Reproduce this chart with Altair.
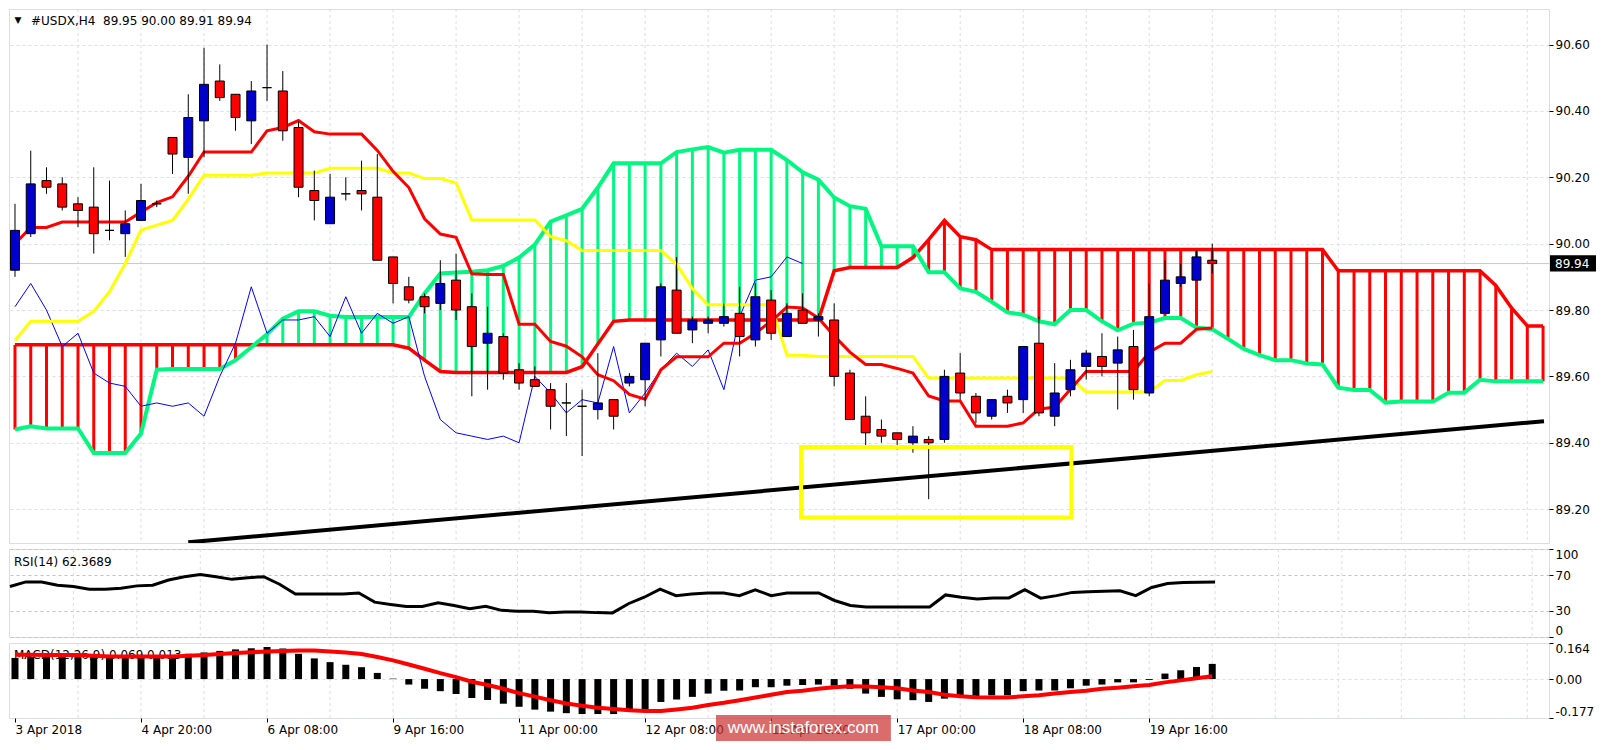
import altair as alt
import pandas as pd

# ---------------- data ----------------
opens = [89.92, 90.03, 90.19, 90.18, 90.12, 90.11, 90.04, 90.03, 90.07, 90.12,
         90.32, 90.26, 90.37, 90.49, 90.45, 90.37, 90.47, 90.46, 90.35, 90.16,
         90.06, 90.15, 90.16, 90.14, 89.96, 89.87, 89.84, 89.82, 89.89, 89.81,
         89.70, 89.72, 89.62, 89.59, 89.56, 89.52, 89.51, 89.50, 89.53, 89.58,
         89.59, 89.71, 89.86, 89.74, 89.76, 89.76, 89.79, 89.71, 89.83, 89.72,
         89.80, 89.77, 89.77, 89.61, 89.48, 89.44, 89.43, 89.40, 89.41, 89.41,
         89.61, 89.54, 89.48, 89.54, 89.53, 89.70, 89.48, 89.56, 89.63, 89.66,
         89.64, 89.69, 89.55, 89.79, 89.88, 89.89, 89.95]
highs = [90.12, 90.28, 90.23, 90.20, 90.14, 90.23, 90.19, 90.10, 90.18, 90.13,
         90.32, 90.45, 90.59, 90.54, 90.45, 90.49, 90.60, 90.52, 90.37, 90.22,
         90.21, 90.20, 90.25, 90.27, 89.96, 89.90, 89.85, 89.95, 89.97, 89.85,
         89.81, 89.73, 89.64, 89.63, 89.58, 89.58, 89.56, 89.67, 89.53, 89.61,
         89.70, 89.88, 89.96, 89.78, 89.78, 89.82, 89.87, 89.88, 89.86, 89.82,
         89.85, 89.79, 89.82, 89.62, 89.54, 89.47, 89.43, 89.45, 89.42, 89.62,
         89.67, 89.55, 89.53, 89.56, 89.69, 89.78, 89.64, 89.65, 89.68, 89.73,
         89.72, 89.74, 89.88, 89.95, 89.94, 89.98, 90.00]
lows = [89.90, 90.02, 90.15, 90.10, 90.05, 89.97, 90.01, 89.96, 90.07, 90.11,
        90.21, 90.15, 90.26, 90.43, 90.34, 90.30, 90.43, 90.31, 90.14, 90.07,
        90.06, 90.13, 90.10, 89.95, 89.82, 89.82, 89.79, 89.80, 89.77, 89.54,
        89.56, 89.59, 89.56, 89.57, 89.44, 89.42, 89.36, 89.47, 89.44, 89.57,
        89.51, 89.66, 89.73, 89.70, 89.73, 89.75, 89.66, 89.69, 89.71, 89.72,
        89.76, 89.72, 89.57, 89.47, 89.39, 89.40, 89.38, 89.37, 89.23, 89.40,
        89.53, 89.46, 89.47, 89.49, 89.49, 89.48, 89.45, 89.54, 89.59, 89.60,
        89.50, 89.53, 89.54, 89.79, 89.87, 89.89, 89.91]
closes = [90.04, 90.18, 90.17, 90.11, 90.10, 90.03, 90.04, 90.06, 90.13, 90.12,
          90.27, 90.38, 90.48, 90.44, 90.38, 90.46, 90.47, 90.34, 90.17, 90.13,
          90.14, 90.15, 90.15, 89.95, 89.88, 89.83, 89.81, 89.88, 89.80, 89.69,
          89.73, 89.61, 89.58, 89.57, 89.51, 89.52, 89.51, 89.52, 89.48, 89.60,
          89.70, 89.87, 89.73, 89.77, 89.77, 89.78, 89.72, 89.84, 89.73, 89.79,
          89.76, 89.78, 89.60, 89.47, 89.43, 89.42, 89.41, 89.42, 89.40, 89.60,
          89.55, 89.49, 89.53, 89.52, 89.69, 89.49, 89.55, 89.62, 89.67, 89.63,
          89.68, 89.56, 89.78, 89.89, 89.90, 89.96, 89.94]

tenkan = [90.00, 90.049, 90.049, 90.065, 90.065, 90.065, 90.065, 90.065, 90.095, 90.124,
          90.141, 90.203, 90.276, 90.276, 90.276, 90.276, 90.34, 90.35, 90.371, 90.337,
          90.33, 90.33, 90.33, 90.281, 90.218, 90.169, 90.075, 90.029, 90.019, 89.909,
          89.907, 89.907, 89.757, 89.757, 89.705, 89.691, 89.659, 89.605, 89.587, 89.546,
          89.531, 89.62, 89.659, 89.659, 89.659, 89.70, 89.70, 89.73, 89.766, 89.809,
          89.806, 89.776, 89.722, 89.673, 89.636, 89.636, 89.624, 89.61, 89.541, 89.526,
          89.526, 89.45, 89.45, 89.45, 89.46, 89.502, 89.507, 89.561, 89.615, 89.615,
          89.615, 89.615, 89.673, 89.70, 89.70, 89.742, 89.746]
kijun = [89.708, 89.766, 89.766, 89.766, 89.766, 89.796, 89.855, 89.94, 90.041, 90.056,
         90.07, 90.134, 90.206, 90.206, 90.206, 90.206, 90.213, 90.213, 90.213, 90.213,
         90.227, 90.227, 90.227, 90.227, 90.213, 90.213, 90.196, 90.196, 90.183, 90.071,
         90.071, 90.071, 90.071, 90.071, 90.021, 90.009, 89.979, 89.979, 89.979, 89.979,
         89.979, 89.979, 89.938, 89.865, 89.816, 89.816, 89.816, 89.816, 89.816, 89.664,
         89.664, 89.66, 89.66, 89.66, 89.66, 89.66, 89.66, 89.66, 89.595, 89.595,
         89.595, 89.595, 89.595, 89.595, 89.595, 89.595, 89.595, 89.595, 89.553, 89.553,
         89.553, 89.553, 89.553, 89.588, 89.588, 89.605, 89.615]
span_a = [89.44, 89.45, 89.443, 89.443, 89.443, 89.369, 89.369, 89.369, 89.428, 89.62,
          89.622, 89.622, 89.622, 89.622, 89.649, 89.688, 89.727, 89.774, 89.796, 89.796,
          89.783, 89.779, 89.779, 89.779, 89.779, 89.779, 89.85, 89.91, 89.913, 89.915,
          89.92, 89.933, 89.958, 89.997, 90.066, 90.085, 90.105, 90.169, 90.242, 90.242,
          90.242, 90.242, 90.276, 90.284, 90.291, 90.274, 90.283, 90.283, 90.283, 90.252,
          90.215, 90.193, 90.139, 90.113, 90.105, 89.992, 89.992, 89.992, 89.914, 89.914,
          89.865, 89.855, 89.825, 89.793, 89.786, 89.766, 89.757, 89.80, 89.80, 89.766,
          89.739, 89.759, 89.762, 89.776, 89.776, 89.747, 89.742, 89.713, 89.683, 89.664,
          89.649, 89.649, 89.639, 89.636, 89.566, 89.559, 89.559, 89.521, 89.524, 89.524,
          89.524, 89.551, 89.551, 89.59, 89.585, 89.585, 89.585, 89.585]
span_b = [89.695] * 25 + [89.685, 89.649, 89.615] + [89.612] * 8 + [89.629, 89.698, 89.766] + \
         [89.77] * 13 + [89.918, 89.928, 89.928, 89.928, 89.928, 89.958, 90.012, 90.07, 90.021, 90.012] + \
         [89.982] * 22 + [89.918] * 10 + [89.874, 89.806, 89.752, 89.752]

rsi_vals = [57.4, 62.6, 62.6, 58.9, 57.4, 54.4, 54.4, 55.5, 58.1, 58.9,
            64.8, 68.5, 71.1, 68.5, 65.5, 67.4, 68.5, 60.0, 48.9, 48.9,
            48.9, 48.9, 50.0, 39.6, 37.0, 34.8, 34.8, 38.9, 35.9, 32.2,
            34.8, 30.3, 29.2, 29.2, 27.7, 28.5, 28.5, 27.7, 27.4, 37.8,
            45.2, 54.4, 47.0, 48.9, 50.0, 50.0, 47.0, 53.7, 47.0, 50.0,
            50.0, 50.0, 41.5, 35.9, 34.1, 34.1, 34.1, 34.1, 34.1, 47.8,
            45.2, 43.3, 44.4, 44.4, 53.7, 44.1, 47.0, 50.7, 51.5, 51.9,
            52.6, 47.0, 56.3, 60.7, 61.9, 62.2, 62.4]
macd_hist = [0.096, 0.100, 0.100, 0.100, 0.100, 0.100, 0.100, 0.100, 0.101, 0.103,
             0.110, 0.115, 0.121, 0.128, 0.135, 0.140, 0.146, 0.139, 0.115, 0.094,
             0.077, 0.065, 0.054, 0.028, 0.002, -0.025, -0.044, -0.055, -0.068, -0.086,
             -0.095, -0.112, -0.126, -0.139, -0.148, -0.155, -0.159, -0.159, -0.159, -0.136,
             -0.136, -0.104, -0.093, -0.081, -0.066, -0.053, -0.052, -0.037, -0.037, -0.030,
             -0.027, -0.025, -0.030, -0.044, -0.066, -0.081, -0.092, -0.096, -0.104, -0.089,
             -0.081, -0.081, -0.074, -0.074, -0.055, -0.052, -0.052, -0.042, -0.030, -0.025,
             -0.015, -0.015, -0.004, 0.025, 0.040, 0.055, 0.069]
macd_signal = [0.111, 0.111, 0.109, 0.109, 0.109, 0.106, 0.103, 0.103, 0.103, 0.103,
               0.103, 0.106, 0.109, 0.114, 0.118, 0.122, 0.125, 0.128, 0.130, 0.130,
               0.125, 0.121, 0.114, 0.100, 0.085, 0.066, 0.047, 0.027, 0.009, -0.012,
               -0.027, -0.044, -0.064, -0.080, -0.096, -0.111, -0.121, -0.130, -0.136, -0.142,
               -0.145, -0.145, -0.138, -0.130, -0.118, -0.108, -0.096, -0.084, -0.071, -0.059,
               -0.053, -0.044, -0.037, -0.033, -0.034, -0.037, -0.042, -0.052, -0.059, -0.071,
               -0.078, -0.083, -0.084, -0.084, -0.078, -0.074, -0.066, -0.059, -0.053, -0.044,
               -0.039, -0.033, -0.027, -0.015, -0.006, 0.004, 0.013]

price_ticks = [89.2, 89.4, 89.6, 89.8, 90.0, 90.2, 90.4, 90.6]
rsi_ticks = [0, 30, 70, 100]
macd_ticks = [-0.177, 0.0, 0.164]
date_labels = ["3 Apr 2018", "4 Apr 20:00", "6 Apr 08:00", "9 Apr 16:00", "11 Apr 00:00",
               "12 Apr 08:00", "13 Apr 16:00", "17 Apr 00:00", "18 Apr 08:00", "19 Apr 16:00"]
label_bars = [0, 8, 16, 24, 32, 40, 48, 56, 64, 72]
grid_bars = list(range(4, 97, 4))
trend_bars = [11.0, 97.06]
trend_prices = [89.10, 89.465]
box_bars = [49.9, 67.06]
box_prices = [89.387, 89.175]
last_price = 89.94
header = "#USDX,H4\u00a0 89.95 90.00 89.91 89.94"
rsi_title = "RSI(14) 62.3689"
macd_title = "MACD(12,26,9) 0.069 0.013"
watermark_bars = [44.5, 55.6]

# ---------------- tables ----------------
n = len(closes)
candles = pd.DataFrame({"i": range(n), "o": opens, "h": highs, "l": lows, "c": closes})
candles["dir"] = ["up" if c > o else "down" for o, c in zip(opens, closes)]
ichi = pd.DataFrame({"i": range(n), "tenkan": tenkan, "kijun": kijun})
chikou = pd.DataFrame({"i": range(n - 26), "v": closes[26:]})
cloud = pd.DataFrame({"i": range(len(span_a)), "a": span_a, "b": span_b})
cloud["lo"] = cloud[["a", "b"]].min(axis=1)
cloud["hi"] = cloud[["a", "b"]].max(axis=1)
cloud["col"] = ["g" if a > b else "r" for a, b in zip(span_a, span_b)]
grid_df = pd.DataFrame({"g": grid_bars})
trend = pd.DataFrame({"i": trend_bars, "p": trend_prices})
box = pd.DataFrame({"x1": [box_bars[0]], "x2": [box_bars[1]], "y1": [box_prices[0]], "y2": [box_prices[1]]})
lastp = pd.DataFrame({"p": [last_price], "hi": [last_price + 0.025], "lo": [last_price - 0.024],
                      "t": [f"{last_price:.2f}"]})
one = pd.DataFrame({"k": [0]})
osc = pd.DataFrame({"i": range(n), "rsi": rsi_vals, "hist": macd_hist, "sig": macd_signal})
wm = pd.DataFrame({"x1": [watermark_bars[0]], "x2": [watermark_bars[1]],
                   "xm": [(watermark_bars[0] + watermark_bars[1]) / 2], "t": ["www.instaforex.com"]})

# ---------------- layout ----------------
W = 1540
H1, H2, H3 = 534, 88, 75
FONT = "DejaVu Sans"
GRID = "#dcdcef"

xs = alt.Scale(domain=[-0.0625, 97.06], nice=False, zero=False)
ps = alt.Scale(domain=[89.098, 90.707], nice=False, zero=False)
rs = alt.Scale(domain=[0, 100], nice=False, zero=False)
ms = alt.Scale(domain=[-0.177, 0.164], nice=False, zero=False)

price_axis = alt.Axis(orient="right", values=price_ticks, format=".2f", grid=True, gridDash=[3, 3],
                      gridColor=GRID, domain=False, tickSize=4, tickColor="black", labelFont=FONT,
                      labelFontSize=12, labelColor="black", labelPadding=2, title=None)
rsi_axis = alt.Axis(orient="right", values=rsi_ticks, grid=True, gridDash=[3, 3], gridColor="#c4c4c4",
                    domain=False, tickSize=4, tickColor="black", labelFont=FONT, labelFontSize=12,
                    labelColor="black", labelPadding=2, labelFlush=True, title=None)
macd_axis = alt.Axis(orient="right", values=macd_ticks, grid=True, gridDash=[3, 3], gridColor=GRID,
                     domain=False, tickSize=4, tickColor="black", labelFont=FONT, labelFontSize=12,
                     labelColor="black", labelPadding=2, labelFlush=True, title=None,
                     labelExpr="datum.value == 0 ? '0.00' : (datum.value < 0 ? '-' + format(-datum.value, '.3f') : format(datum.value, '.3f'))")
lab_expr = "[" + ",".join("'" + s + "'" for s in date_labels) + "][round(datum.value/8)]"
date_axis = alt.Axis(orient="bottom", values=label_bars, labelExpr=lab_expr, grid=False, domain=False,
                     tickSize=4, tickColor="black", labelAlign="left", labelFont=FONT, labelFontSize=12,
                     labelColor="black", labelPadding=2, labelFlush=False, labelOverlap=False,
                     labelBound=False, title=None)


def X(f, axis=None):
    return alt.X(f, scale=xs, axis=axis)


def P(f):
    return alt.Y(f, scale=ps, axis=price_axis)


# ---------------- main panel ----------------
vgrid = alt.Chart(grid_df).mark_rule(color=GRID, strokeDash=[3, 3], strokeWidth=1).encode(x=X("g:Q"))
pline = alt.Chart(lastp).mark_rule(color="#c6c6e2", strokeWidth=1).encode(y=P("p:Q"))
cloud_rules = alt.Chart(cloud).mark_rule(strokeWidth=3, clip=True).encode(
    x=X("i:Q"), y=P("lo:Q"), y2="hi:Q",
    color=alt.Color("col:N", scale=alt.Scale(domain=["g", "r"], range=["#00f880", "#ff0000"]), legend=None))
span_b_line = alt.Chart(cloud).mark_line(color="#ff0000", strokeWidth=3.5, clip=True).encode(x=X("i:Q"), y=P("b:Q"))
span_a_line = alt.Chart(cloud).mark_line(color="#00f880", strokeWidth=4, clip=True).encode(x=X("i:Q"), y=P("a:Q"))
chikou_line = alt.Chart(chikou).mark_line(color="#0000ff", strokeWidth=1, clip=True).encode(x=X("i:Q"), y=P("v:Q"))
kijun_line = alt.Chart(ichi).mark_line(color="#ffff00", strokeWidth=3, clip=True).encode(x=X("i:Q"), y=P("kijun:Q"))
tenkan_line = alt.Chart(ichi).mark_line(color="#ff0000", strokeWidth=3, clip=True).encode(x=X("i:Q"), y=P("tenkan:Q"))
wicks = alt.Chart(candles).mark_rule(color="black", strokeWidth=1, clip=True).encode(x=X("i:Q"), y=P("l:Q"), y2="h:Q")
bodies = alt.Chart(candles).mark_bar(size=9, stroke="black", strokeWidth=1, clip=True).encode(
    x=X("i:Q"), y=P("o:Q"), y2="c:Q",
    color=alt.Color("dir:N", scale=alt.Scale(domain=["up", "down"], range=["#0000cd", "#ff0000"]), legend=None))
trend_line = alt.Chart(trend).mark_line(color="black", strokeWidth=4, clip=True).encode(x=X("i:Q"), y=P("p:Q"))
ybox = alt.Chart(box).mark_rect(fillOpacity=0, stroke="#ffff00", strokeWidth=4).encode(
    x=X("x1:Q"), x2="x2:Q", y=P("y1:Q"), y2="y2:Q")
tri = alt.Chart(one).mark_text(text="\u25bc", fontSize=9, font=FONT, color="black",
                               align="center", baseline="middle").encode(x=alt.value(9), y=alt.value(11))
head = alt.Chart(one).mark_text(text=header, fontSize=12, font=FONT, color="black",
                                align="left", baseline="middle").encode(x=alt.value(22), y=alt.value(12))
pbox = alt.Chart(lastp).mark_rect(color="black").encode(
    x=alt.value(W + 1), x2=alt.value(W + 47), y=P("hi:Q"), y2="lo:Q")
ptxt = alt.Chart(lastp).mark_text(fontSize=12, font=FONT, color="white", align="left",
                                  baseline="middle").encode(x=alt.value(W + 6), y=P("p:Q"), text="t:N")

main = alt.layer(vgrid, pline, cloud_rules, span_b_line, span_a_line, chikou_line, kijun_line,
                 tenkan_line, wicks, bodies, trend_line, ybox, tri, head, pbox, ptxt
                 ).resolve_scale(color="independent").properties(width=W, height=H1)

# ---------------- RSI panel ----------------
R = lambda f: alt.Y(f, scale=rs, axis=rsi_axis)
rsi_grid = alt.Chart(grid_df).mark_rule(color=GRID, strokeDash=[3, 3]).encode(x=X("g:Q"))
rsi_line = alt.Chart(osc).mark_line(color="black", strokeWidth=3, clip=True).encode(x=X("i:Q"), y=R("rsi:Q"))
rsi_lab = alt.Chart(one).mark_text(text=rsi_title, fontSize=12, font=FONT, color="black",
                                   align="left", baseline="middle").encode(x=alt.value(5), y=alt.value(13))
rsi = alt.layer(rsi_grid, rsi_lab, rsi_line).properties(width=W, height=H2)

# ---------------- MACD panel ----------------
M = lambda f: alt.Y(f, scale=ms, axis=macd_axis)
XD = lambda f: alt.X(f, scale=xs, axis=date_axis)
m_grid = alt.Chart(grid_df).mark_rule(color=GRID, strokeDash=[3, 3]).encode(x=XD("g:Q"))
m_lab = alt.Chart(one).mark_text(text=macd_title, fontSize=12, font=FONT, color="black",
                                 align="left", baseline="middle").encode(x=alt.value(5), y=alt.value(12))
m_bars = alt.Chart(osc).mark_bar(size=7, color="black", clip=True).encode(x=XD("i:Q"), y=M("hist:Q"), y2=alt.datum(0))
m_sig = alt.Chart(osc).mark_line(color="#ff0000", strokeWidth=4, clip=True).encode(x=XD("i:Q"), y=M("sig:Q"))
wm_box = alt.Chart(wm).mark_rect(color="#cc3333", opacity=0.72).encode(
    x=XD("x1:Q"), x2="x2:Q", y=alt.value(H3 - 3), y2=alt.value(H3 + 23))
wm_txt = alt.Chart(wm).mark_text(fontSize=17, font="Liberation Sans", color="white", align="center",
                                 baseline="middle").encode(x=XD("xm:Q"), y=alt.value(H3 + 10), text="t:N")
macd = alt.layer(m_grid, m_lab, m_bars, m_sig, wm_box, wm_txt).properties(width=W, height=H3)

chart = alt.vconcat(main, rsi, macd, spacing=3).properties(
    padding={"left": 0, "top": 0, "right": 0, "bottom": 0}
).configure_view(stroke="black", strokeWidth=1).configure(background="white")

chart.save("out.html", embed_options={"renderer": "svg", "actions": False})
